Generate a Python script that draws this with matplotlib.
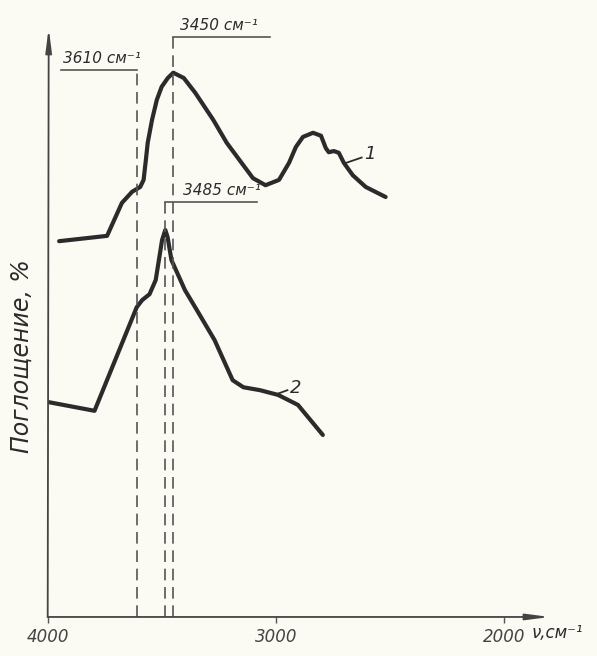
import matplotlib.pyplot as plt

# absorption spectra, wavenumber (cm-1) vs absorption (arb. %)
nu1 = [3950, 3740, 3675, 3630, 3595, 3580, 3575, 3570, 3562, 3543, 3522, 3501,
       3474, 3450, 3404, 3354, 3275, 3216, 3151, 3101, 3046, 2987, 2943, 2913,
       2882, 2838, 2803, 2782, 2769, 2747, 2725, 2703, 2664, 2607, 2520]
abs1 = [63.8, 64.7, 70.3, 72.2, 73.0, 74.2, 75.9, 77.6, 80.5, 84.4, 87.8, 90.0,
        91.5, 92.4, 91.5, 89.0, 84.4, 80.5, 77.1, 74.5, 73.3, 74.2, 77.1, 79.8,
        81.5, 82.2, 81.7, 79.6, 78.9, 79.1, 78.8, 77.1, 75.0, 73.0, 71.3]

nu2 = [4000, 3795, 3610, 3586, 3554, 3527, 3513, 3499, 3485, 3475, 3458, 3399,
       3339, 3269, 3190, 3143, 3070, 2991, 2904, 2795]
abs2 = [36.5, 35.0, 52.6, 53.8, 54.8, 57.2, 60.6, 64.0, 65.7, 64.5, 60.6, 55.5,
        51.6, 47.0, 40.2, 39.0, 38.5, 37.7, 36.0, 30.9]

# marked band positions
bands = [3610, 3450, 3485]
xticks = [4000, 3000, 2000]

ink = '#2b2b2b'
paper = '#fbfbf4'

fig = plt.figure(figsize=(5.97, 6.56), dpi=100, facecolor=paper)
ax = fig.add_axes([0.0799, 0.0595, 0.8414, 0.8979])
ax.set_facecolor(paper)
ax.set_xlim(4000, 1800)
ax.set_ylim(0, 100)

for s in ax.spines.values():
    s.set_visible(False)

# axes with arrows
arr = dict(arrowstyle='-|>,head_length=1.4,head_width=0.18', color='#444444',
           lw=1.3, shrinkA=0, shrinkB=0)
ax.annotate('', xy=(1, 0), xytext=(0, 0), xycoords='axes fraction', arrowprops=arr)
ax.annotate('', xy=(0.002, 1), xytext=(0, 0), xycoords='axes fraction', arrowprops=arr)

ax.set_xticks(xticks)
ax.set_xticklabels([str(t) for t in xticks], fontsize=12, style='italic', color='#444444')
ax.tick_params(axis='x', length=4, width=1, color='#555555', pad=4)
ax.set_yticks([])

# spectra
ax.plot(nu1, abs1, color=ink, lw=3.0, solid_joinstyle='round', solid_capstyle='round')
ax.plot(nu2, abs2, color=ink, lw=3.0, solid_joinstyle='round', solid_capstyle='round')

ax.plot([2700, 2625], [77.0, 78.0], color=ink, lw=1.3)
ax.text(2612, 78.6, '1', fontsize=13, style='italic', color=ink, va='center')
ax.plot([3000, 2950], [37.8, 38.5], color=ink, lw=1.3)
ax.text(2940, 38.8, '2', fontsize=13, style='italic', color=ink, va='center')

# band markers: dashed drop line, leader and label
tops = [92.9, 98.5, 70.5]
leader_end = [3942, 3026, 3083]
text_x = [3935, 3420, 3407]
for b, top, le, tx in zip(bands, tops, leader_end, text_x):
    ax.plot([b, b], [0, top], color='#555555', lw=1.2, linestyle=(0, (7, 4)))
    ax.plot([b, le], [top, top], color='#555555', lw=1.2)
    ax.text(tx, top + 0.6, f'{b} см⁻¹', fontsize=11, style='italic', color=ink,
            ha='left', va='bottom')

fig.text(0.036, 0.457, 'Поглощение, %', rotation=90, fontsize=17, style='italic',
         color=ink, ha='center', va='center')
fig.text(0.891, 0.035, 'ν,см⁻¹', fontsize=12, style='italic', color=ink,
         ha='left', va='center')

fig.savefig('out.png', dpi=100, facecolor=paper)
